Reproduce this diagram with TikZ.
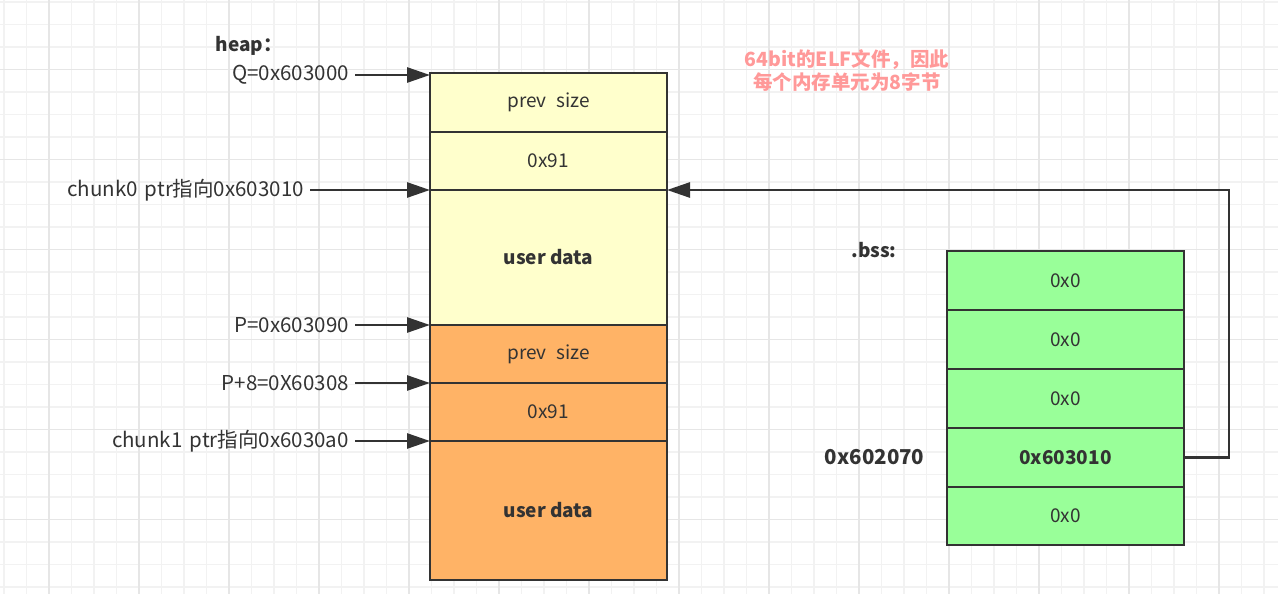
\documentclass[tikz,border=0pt]{standalone}
\usepackage{fontspec}
\setmainfont{Noto Sans CJK SC}
\usetikzlibrary{positioning, arrows.meta}
\definecolor{heapyellow}{HTML}{FFFFCC}
\definecolor{heaporange}{HTML}{FFB366}
\definecolor{bssgreen}{HTML}{99FF99}
\definecolor{linegray}{HTML}{333333}
\definecolor{notered}{HTML}{FF9999}
\definecolor{gridminor}{HTML}{F2F2F2}
\definecolor{gridmajor}{HTML}{E6E6E6}

\begin{document}
\begin{tikzpicture}[x=1pt, y=-1pt,
	every node/.style={font=\fontsize{19}{23}\selectfont, text=linegray},
	cell/.style={draw=linegray, line width=2.5pt, minimum width=237pt, inner sep=0pt, outer sep=0pt},
	ptr/.style={draw=linegray, line width=2.7pt, -{Triangle[length=23pt,width=15pt]}},
	lbl/.style={anchor=east, inner sep=6pt, font=\fontsize{20.5}{24}\selectfont}]
	
	% draw background grid
	\fill[white] (0,0) rectangle (1278,594);
	\useasboundingbox (0,0) rectangle (1278,594);
	\foreach \x in {0,...,56}
	\draw[gridminor, line width=1.5pt] ({4+22.5*\x},0) -- ({4+22.5*\x},594);
	\foreach \y in {0,...,26}
	\draw[gridminor, line width=1.5pt] (0,{2+22.5*\y}) -- (1278,{2+22.5*\y});
	\foreach \x in {0,...,13}
	\draw[gridmajor, line width=1.5pt] ({49+90*\x},0) -- ({49+90*\x},594);
	\foreach \y in {0,...,5}
	\draw[gridmajor, line width=1.5pt] (0,{69.5+90*\y}) -- (1278,{69.5+90*\y});
	
	% draw heap chunks
	\node[cell, fill=heapyellow, minimum height=59pt, anchor=north west] (q0) at (430,73) {prev\hspace{0.5em}size};
	\node[cell, fill=heapyellow, minimum height=58pt, below=0pt of q0] (q1) {0x91};
	\node[cell, fill=heapyellow, minimum height=135pt, below=0pt of q1] (q2) {\textbf{user data}};
	\node[cell, fill=heaporange, minimum height=58pt, below=0pt of q2] (p0) {prev\hspace{0.5em}size};
	\node[cell, fill=heaporange, minimum height=58pt, below=0pt of p0] (p1) {0x91};
	\node[cell, fill=heaporange, minimum height=139pt, below=0pt of p1] (p2) {\textbf{user data}};
	
	% draw bss cells
	\node[cell, fill=bssgreen, minimum height=59pt, anchor=north west] (b0) at (947,251) {0x0};
	\node[cell, fill=bssgreen, minimum height=59pt, below=0pt of b0] (b1) {0x0};
	\node[cell, fill=bssgreen, minimum height=59pt, below=0pt of b1] (b2) {0x0};
	\node[cell, fill=bssgreen, minimum height=59pt, below=0pt of b2] (b3) {\textbf{0x603010}};
	\node[cell, fill=bssgreen, minimum height=58pt, below=0pt of b3] (b4) {0x0};
	
	% draw labels
	\node[anchor=west] (heaplbl) at (212,46) {\textbf{heap：}};
	\node[lbl, left=75pt of q0.north west, yshift=-2pt] (qlbl) {Q=0x603000};
	\node[lbl, left=120pt of q2.north west] (c0lbl) {chunk0\hspace{0.35em}ptr指向0x603010};
	\node[lbl, left=75pt of p0.north west] (plbl) {P=0x603090};
	\node[lbl, left=75pt of p1.north west] (p8lbl) {P+8=0X60308};
	\node[lbl, left=75pt of p2.north west] (c1lbl) {chunk1\hspace{0.35em}ptr指向0x6030a0};
	\node (bsslbl) at (874,250) {\textbf{.bss:}};
	\node[left=19pt of b3, font=\fontsize{20.5}{24}\selectfont] (addrlbl) {\textbf{0x602070}};
	\node[text=notered, align=center, font=\fontsize{19.5}{23}\selectfont\bfseries] (note) at (847,70)
	{64bit的ELF文件，因此\\每个内存单元为8字节};
	
	% draw pointers
	\draw[ptr] (qlbl.east) -- (qlbl.east -| q0.west);
	\draw[ptr] (c0lbl.east) -- (q2.north west);
	\draw[ptr] (plbl.east) -- (p0.north west);
	\draw[ptr] (p8lbl.east) -- (p1.north west);
	\draw[ptr] (c1lbl.east) -- (p2.north west);
	\draw[ptr] (b3.east) -- ++(45,0) |- (q2.north east);
	
\end{tikzpicture}
\end{document}
